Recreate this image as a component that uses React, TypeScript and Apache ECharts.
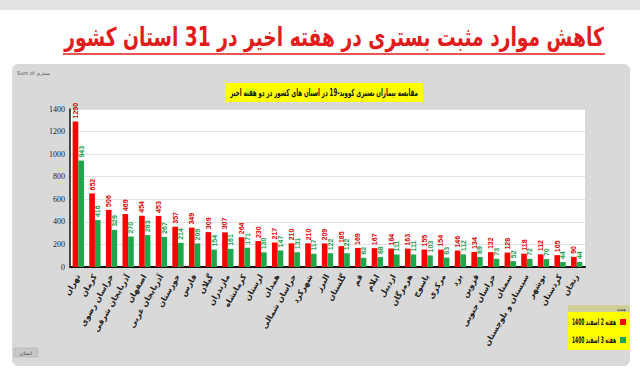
import React, { useEffect, useRef } from "react";
import * as echarts from "echarts";

const provinces = [
  "تهران", "کرمان", "خراسان رضوی", "آذربایجان شرقی", "اصفهان", "آذربایجان غربی",
  "خوزستان", "فارس", "گیلان", "مازندران", "کرمانشاه", "لرستان", "همدان",
  "خراسان شمالی", "شهرکرد", "البرز", "گلستان", "قم", "ایلام", "اردبیل", "هرمزگان",
  "یاسوج", "مرکزی", "یزد", "قزوین", "خراسان جنوبی", "سمنان", "سیستان و بلوچستان",
  "بوشهر", "کردستان", "زنجان",
];
const week2 = [
  1290, 652, 506, 469, 454, 453, 357, 349, 309, 307, 264, 230, 217, 210, 210, 209,
  185, 169, 167, 164, 163, 155, 154, 146, 134, 132, 128, 118, 112, 105, 90,
];
const week3 = [
  943, 416, 329, 270, 283, 267, 214, 209, 154, 161, 171, 130, 147, 131, 117, 122,
  122, 82, 88, 111, 111, 103, 83, 112, 89, 73, 52, 72, 70, 44, 44,
];
const seriesNames = ["هفته 2 اسفند 1400", "هفته 3 اسفند 1400"];
const seriesColors = ["#ff0000", "#1fa64a"];
const labelColors = ["#e00000", "#1a9e48"];
const yTicks = { min: 0, max: 1400, interval: 200 };
const mainTitle = "کاهش موارد مثبت بستری در هفته اخیر در 31 استان کشور";
const chartTitle = "مقایسه بیماران بستری کووید-19 در استان های کشور در دو هفته اخیر";

const FA = "DejaVu Sans";

function measure(text: string, font: string): number {
  const c = document.createElement("canvas").getContext("2d");
  if (!c) return text.length * 6;
  c.font = font;
  return c.measureText(text).width || text.length * 6;
}

export default function App() {
  const ref = useRef<HTMLDivElement>(null);
  useEffect(() => {
    if (!ref.current) return;
    const chart = echarts.init(ref.current, null, { renderer: "svg" });
    const titleFont = `bold 26px "${FA}"`;
    const titleScale = 540 / measure(mainTitle, titleFont);
    const subFont = `bold 10px "${FA}"`;
    const subScale = 188 / measure(chartTitle, subFont);
    const legFont = `bold 9px "${FA}"`;
    const legScale = 44 / measure(seriesNames[0], legFont);

    const labelStyle = (color: string) => ({
      show: true,
      position: "top",
      rotate: 90,
      align: "left",
      verticalAlign: "middle",
      distance: 3,
      color,
      fontSize: 7,
      fontWeight: "bold",
      fontFamily: "Liberation Sans",
      formatter: (p: any) => String(p.value),
    });

    const legendGraphics: any[] = [];
    seriesNames.forEach((name, i) => {
      const y = 322 + i * 18;
      legendGraphics.push({
        type: "rect",
        shape: { x: 620, y: y - 3, width: 6, height: 6 },
        style: { fill: seriesColors[i] },
      });
      legendGraphics.push({
        type: "text",
        x: 594,
        y,
        scaleX: legScale,
        style: { text: name, fill: "#111", font: legFont, align: "center", verticalAlign: "middle" },
      });
    });

    chart.setOption({
      animation: false,
      backgroundColor: "#ffffff",
      graphic: [
        { type: "rect", shape: { x: 0, y: 0, width: 640, height: 10 }, style: { fill: "#e4e4e4" }, z: -10 },
        { type: "rect", shape: { x: 12, y: 64, width: 618, height: 302, r: 6 }, style: { fill: "#d9d9d9" }, z: -10 },
        {
          type: "text",
          x: 334,
          y: 37,
          scaleX: titleScale,
          style: { text: mainTitle, fill: "#e21b1b", font: titleFont, align: "center", verticalAlign: "middle" },
        },
        { type: "line", shape: { x1: 63, y1: 54, x2: 605, y2: 54 }, style: { stroke: "#e21b1b", lineWidth: 1.5 } },
        {
          type: "text",
          x: 17,
          y: 73,
          style: { text: "Sum of بستری", fill: "#555", font: `5px "${FA}"`, verticalAlign: "middle" },
        },
        { type: "rect", shape: { x: 226, y: 83, width: 197, height: 19 }, style: { fill: "#ffff00" } },
        {
          type: "text",
          x: 324,
          y: 92.5,
          scaleX: subScale,
          style: { text: chartTitle, fill: "#111", font: subFont, align: "center", verticalAlign: "middle" },
        },
        { type: "rect", shape: { x: 568, y: 305, width: 62, height: 45 }, style: { fill: "#ffff00" } },
        { type: "rect", shape: { x: 568, y: 305, width: 62, height: 7 }, style: { fill: "#cfcf9a" } },
        {
          type: "text",
          x: 626,
          y: 308.5,
          style: { text: "هفته", fill: "#444", font: `5px "${FA}"`, align: "right", verticalAlign: "middle" },
        },
        ...legendGraphics,
        { type: "rect", shape: { x: 14, y: 348, width: 24, height: 9 }, style: { fill: "#c8c8c8", stroke: "#aaa", lineWidth: 0.5 } },
        {
          type: "text",
          x: 26,
          y: 352.5,
          style: { text: "استان", fill: "#444", font: `5px "${FA}"`, align: "center", verticalAlign: "middle" },
        },
      ],
      grid: { left: 70, right: 55, top: 109, bottom: 107, backgroundColor: "#ffffff", show: true, borderWidth: 0 },
      xAxis: {
        type: "category",
        data: provinces,
        axisLine: { lineStyle: { color: "#111", width: 2 } },
        axisTick: { show: false },
        axisLabel: {
          interval: 0,
          rotate: 60,
          fontSize: 8,
          fontWeight: "bold",
          color: "#222",
          fontFamily: FA,
          margin: 8,
        },
      },
      yAxis: {
        type: "value",
        min: yTicks.min,
        max: yTicks.max,
        interval: yTicks.interval,
        axisLine: { show: true, lineStyle: { color: "#111", width: 1.5 } },
        axisTick: { show: false },
        splitLine: { lineStyle: { color: "#e2e2e2" } },
        axisLabel: {
          fontSize: 8,
          color: "#222",
          fontFamily: "Liberation Sans Narrow",
          margin: 5,
          formatter: (v: number) => String(v),
        },
      },
      series: [
        {
          name: seriesNames[0],
          type: "bar",
          data: week2,
          barGap: "0%",
          barCategoryGap: "32%",
          itemStyle: { color: seriesColors[0] },
          label: labelStyle(labelColors[0]),
        },
        {
          name: seriesNames[1],
          type: "bar",
          data: week3,
          itemStyle: { color: seriesColors[1] },
          label: labelStyle(labelColors[1]),
        },
      ],
    });
    return () => chart.dispose();
  }, []);
  return (
    <div
      ref={ref}
      style={{ position: "fixed", left: 0, top: 0, width: 640, height: 374 }}
    />
  );
}
